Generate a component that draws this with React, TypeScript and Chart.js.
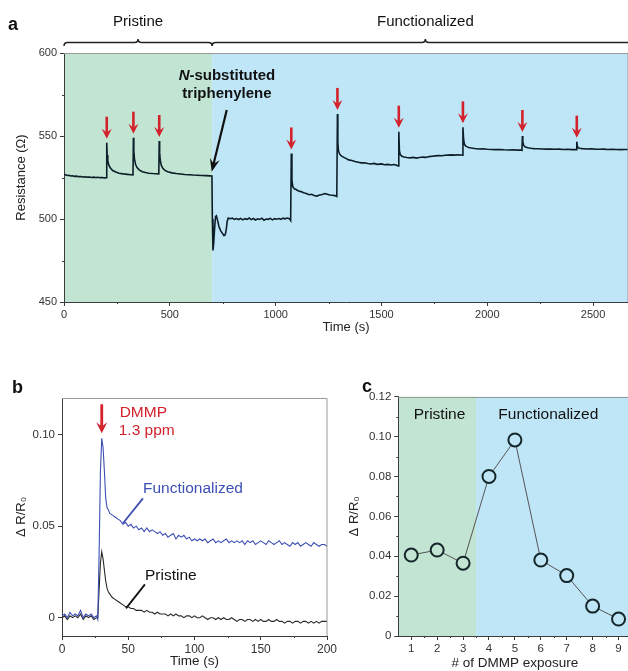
import React, { useEffect, useRef } from "react";
import { Chart, registerables } from "chart.js";

Chart.register(...registerables);

const FONT = "'Liberation Sans', Arial, Helvetica, sans-serif";
Chart.defaults.font.family = FONT;
Chart.defaults.color = "#333";

const GREEN = "#c2e4d3";
const BLUE = "#bfe6f7";
const RED = "#d3222c";
const AXIS = "#3c3c3c";
const FRAME = "#9a9a9a";
const TRACE = "#0c1e28";
const FUNC_BLUE = "#3e4fb4";

// ---------------- Panel a : resistance vs time ----------------
const aTime = [
  0, 8, 16, 24, 32, 40, 50, 60, 70, 80, 90, 100, 110, 120, 130, 140, 150, 160, 170, 180, 190, 200,
  202, 204, 207, 212, 220, 230, 245, 260, 280, 300, 315, 326,
  328, 330, 333, 338, 345, 355, 370, 385, 400, 420, 435, 448,
  450, 452, 455, 460, 467, 477, 490, 510, 530, 550, 570, 590, 610, 630, 650, 670, 690, 699,
  701, 704, 707, 712, 716, 720, 726, 732, 740, 748, 756, 762, 767, 771, 776, 785, 795, 805, 815, 825,
  835, 845, 855, 865, 875, 885, 895, 905, 915, 925, 935, 945, 955, 965, 975, 985, 995, 1005, 1015,
  1025, 1035, 1045, 1055, 1065, 1071,
  1074, 1077, 1081, 1088, 1097, 1108, 1120, 1132, 1145, 1158, 1170, 1182, 1195, 1208, 1220, 1232,
  1244, 1256, 1268, 1280, 1289,
  1292, 1294, 1297, 1302, 1310, 1320, 1332, 1345, 1360, 1375, 1390, 1405, 1420, 1435, 1450, 1465,
  1480, 1500, 1515, 1530, 1545, 1560, 1572, 1579,
  1582, 1585, 1589, 1595, 1605, 1620, 1635, 1650, 1665, 1680, 1695, 1710, 1725, 1740, 1755, 1770,
  1785, 1800, 1815, 1830, 1845, 1860, 1875, 1882,
  1885, 1888, 1891, 1896, 1903, 1912, 1925, 1940, 1960, 1980, 2000, 2020, 2040, 2060, 2080, 2100,
  2120, 2140, 2160, 2164,
  2166, 2168, 2172, 2180, 2192, 2205, 2220, 2240, 2260, 2280, 2300, 2320, 2340, 2360, 2380, 2400,
  2415, 2421,
  2423, 2425, 2429, 2436, 2450, 2470, 2490, 2510, 2530, 2550, 2570, 2590, 2610, 2630, 2650, 2670,
];
const aRes = [
  526.8, 526.6, 526.2, 526.3, 525.9, 526.0, 525.7, 525.8, 525.5, 525.6, 525.3, 525.4, 525.2, 525.3, 525.0, 525.2, 525.0, 525.1, 524.9, 525.0, 524.8, 524.9,
  546.0, 538.5, 535.0, 532.4, 530.6, 529.2, 528.3, 527.6, 527.2, 526.9, 526.7, 526.6,
  549.0, 541.0, 536.2, 533.0, 531.0, 529.6, 528.5, 528.0, 527.6, 527.4, 527.3, 527.2,
  547.0, 540.0, 535.2, 532.3, 530.5, 529.3, 528.5, 527.8, 527.4, 527.1, 526.8, 526.7, 526.5, 526.4, 526.2, 526.1, 526.0, 525.9,
  500.0, 481.0, 485.0, 495.0, 501.5, 502.0, 499.0, 495.5, 493.0, 491.5, 490.0, 490.5, 494.0, 498.5, 500.6, 500.2, 500.5, 499.8, 500.3, 499.7,
  500.4, 499.5, 500.2, 499.8, 500.6, 499.6, 500.3, 499.4, 500.1, 499.7, 500.5, 499.3, 500.0, 499.8, 500.4, 499.5, 500.2, 499.9, 500.3,
  499.8, 500.5, 500.1, 500.6, 500.2, 499.0,
  539.5, 523.5, 519.5, 518.2, 517.8, 516.9, 516.5, 515.8, 515.4, 514.6, 514.9, 514.2, 513.8, 514.4, 514.8, 515.3,
  514.9, 514.5, 514.3, 514.1, 513.6,
  563.3, 546.0, 541.0, 539.2, 538.0, 537.3, 536.5, 535.6, 535.2, 534.6, 534.2, 533.8, 533.9, 533.4, 533.1, 533.5,
  532.9, 533.2, 532.7, 532.9, 532.5, 532.8, 532.4, 532.0,
  552.6, 541.0, 538.8, 537.9, 537.4, 537.0, 536.8, 537.1, 536.7, 537.0, 537.3, 537.1, 537.6, 537.8, 538.0, 538.2,
  538.1, 538.4, 538.5, 538.6, 538.5, 538.7, 538.6, 538.4,
  555.2, 548.5, 545.5, 544.2, 543.6, 543.1, 542.8, 542.5, 542.2, 542.3, 542.0, 541.9, 541.8, 541.9, 541.7, 541.6,
  541.7, 541.5, 541.6, 541.4,
  550.0, 546.5, 544.3, 543.3, 542.9, 542.6, 542.4, 542.3, 542.2, 542.1, 542.2, 542.0, 542.1, 541.9, 542.0, 541.8,
  541.9, 541.8,
  546.6, 544.3, 543.0, 542.6, 542.4, 542.2, 542.3, 542.1, 542.0, 542.1, 541.9, 542.0, 541.9, 541.8, 541.9, 541.8,
];
const aSpikeTimes = [202, 328, 450, 1074, 1292, 1582, 1885, 2166, 2423];
const aPhaseLabels = ["Pristine", "Functionalized"];
const aPhaseEdges = [0, 700, 2715];
const aXTicks = [0, 500, 1000, 1500, 2000, 2500];
const aXTickLabels = ["0", "500", "1000", "1500", "2000", "2500"];
const aXMinor = [250, 750, 1250, 1750, 2250];
const aYTicks = [450, 500, 550, 600];
const aYTickLabels = ["450", "500", "550", "600"];
const aYMinor = [475, 525, 575];

// ---------------- Panel b : ΔR/R0 vs time ----------------
const bTime = [
  0, 2, 4, 6, 8, 10, 12, 14, 16, 18, 20, 22, 24, 26,
  27, 28, 29, 30, 31, 32, 33, 34, 35, 36,
  38, 40, 42, 44, 46, 48, 50, 52, 54, 56,
  58, 60, 62, 64, 66, 68, 70, 72, 74, 76,
  78, 80, 82, 84, 86, 88, 90, 92, 94, 96,
  98, 100, 102, 104, 106, 108, 110, 112, 114, 116,
  118, 120, 122, 124, 126, 128, 130, 132, 134, 136,
  138, 140, 142, 144, 146, 148, 150, 152, 154, 156,
  158, 160, 162, 164, 166, 168, 170, 172, 174, 176,
  178, 180, 182, 184, 186, 188, 190, 192, 194, 196,
  198, 200,
];
const bFunctionalized = [
  0.001, 0.002, 0.000, 0.003, 0.001, 0.002, 0.001, 0.004, 0.000, 0.002, 0.001, 0.002, 0.000, 0.001,
  -0.001, 0.035, 0.080, 0.098, 0.093, 0.080, 0.065, 0.060, 0.059, 0.057,
  0.056, 0.055, 0.054, 0.053, 0.051, 0.052, 0.050, 0.051, 0.049, 0.050,
  0.048, 0.049, 0.047, 0.049, 0.047, 0.048, 0.047, 0.046, 0.047, 0.045,
  0.046, 0.044, 0.045, 0.046, 0.043, 0.045, 0.044, 0.045, 0.043, 0.044,
  0.042, 0.043, 0.042, 0.043, 0.042, 0.043, 0.041, 0.042, 0.043, 0.041,
  0.042, 0.041, 0.042, 0.043, 0.041, 0.042, 0.041, 0.042, 0.041, 0.042,
  0.040, 0.042, 0.041, 0.042, 0.040, 0.041, 0.042, 0.041, 0.040, 0.042,
  0.041, 0.040, 0.041, 0.042, 0.040, 0.041, 0.040, 0.039, 0.041, 0.040,
  0.041, 0.039, 0.040, 0.041, 0.040, 0.039, 0.041, 0.040, 0.039, 0.040,
  0.040, 0.039,
];
const bPristine = [
  0.000, 0.001, -0.001, 0.001, 0.000, 0.001, 0.000, 0.002, -0.001, 0.001, 0.000, 0.001, -0.001, 0.000,
  0.000, 0.015, 0.030, 0.036, 0.032, 0.026, 0.020, 0.016, 0.014, 0.013,
  0.011, 0.010, 0.009, 0.008, 0.007, 0.006, 0.006, 0.005, 0.005, 0.004,
  0.004, 0.004, 0.003, 0.004, 0.003, 0.003, 0.002, 0.003, 0.002, 0.002,
  0.002, 0.001, 0.002, 0.001, 0.002, 0.001, 0.001, 0.000, 0.001, 0.001,
  0.000, 0.001, 0.000, 0.000, 0.001, 0.000, -0.001, 0.000, 0.000, -0.001,
  0.000, -0.001, 0.000, -0.001, -0.001, 0.000, -0.001, -0.002, -0.001, -0.001,
  -0.002, -0.001, -0.001, -0.002, -0.001, -0.002, -0.001, -0.002, -0.002, -0.001,
  -0.002, -0.002, -0.001, -0.002, -0.002, -0.003, -0.002, -0.002, -0.003, -0.002,
  -0.002, -0.003, -0.002, -0.002, -0.003, -0.002, -0.003, -0.002, -0.003, -0.002,
  -0.002, -0.002,
];
const bSeriesLabels = ["Functionalized", "Pristine"];
const bXTicks = [0, 50, 100, 150, 200];
const bXTickLabels = ["0", "50", "100", "150", "200"];
const bXMinor = [25, 75, 125, 175];
const bYTicks = [0, 0.05, 0.1];
const bYTickLabels = ["0", "0.05", "0.10"];
const bStimulus = ["DMMP", "1.3 ppm"];
const bStimulusTime = 30;

// ---------------- Panel c : response vs exposure number ----------------
const cExposure = [1, 2, 3, 4, 5, 6, 7, 8, 9];
const cResponse = [0.0406, 0.0431, 0.0365, 0.0800, 0.0983, 0.0381, 0.0303, 0.0150, 0.0085];
const cPhaseLabels = ["Pristine", "Functionalized"];
const cPhaseEdges = [0.5, 3.5, 9.5];
const cXTicks = [1, 2, 3, 4, 5, 6, 7, 8, 9];
const cXTickLabels = ["1", "2", "3", "4", "5", "6", "7", "8", "9"];
const cXMinor = [1.5, 2.5, 3.5, 4.5, 5.5, 6.5, 7.5, 8.5];
const cYTicks = [0, 0.02, 0.04, 0.06, 0.08, 0.1, 0.12];
const cYTickLabels = ["0", "0.02", "0.04", "0.06", "0.08", "0.10", "0.12"];
const cYMinor = [0.01, 0.03, 0.05, 0.07, 0.09, 0.11];

// ---------------- helpers ----------------
function minorX(ctx: CanvasRenderingContext2D, scale: any, vals: number[], len: number) {
  ctx.save();
  ctx.strokeStyle = AXIS;
  ctx.lineWidth = 1;
  ctx.beginPath();
  for (const v of vals) {
    const px = Math.round(scale.getPixelForValue(v)) + 0.5;
    ctx.moveTo(px, scale.top);
    ctx.lineTo(px, scale.top + len);
  }
  ctx.stroke();
  ctx.restore();
}
function minorY(ctx: CanvasRenderingContext2D, scale: any, vals: number[], len: number) {
  ctx.save();
  ctx.strokeStyle = AXIS;
  ctx.lineWidth = 1;
  ctx.beginPath();
  for (const v of vals) {
    const py = Math.round(scale.getPixelForValue(v)) + 0.5;
    ctx.moveTo(scale.right, py);
    ctx.lineTo(scale.right - len, py);
  }
  ctx.stroke();
  ctx.restore();
}
function frameTopRight(ctx: CanvasRenderingContext2D, ca: any) {
  ctx.save();
  ctx.strokeStyle = FRAME;
  ctx.lineWidth = 1;
  ctx.beginPath();
  ctx.moveTo(ca.left, Math.round(ca.top) + 0.5);
  ctx.lineTo(ca.right, Math.round(ca.top) + 0.5);
  ctx.lineTo(ca.right, ca.bottom);
  ctx.stroke();
  ctx.restore();
}
function arrow(
  ctx: CanvasRenderingContext2D,
  x1: number, y1: number, x2: number, y2: number,
  color: string, width: number, headLen: number, headW: number
) {
  const ang = Math.atan2(y2 - y1, x2 - x1);
  const ux = Math.cos(ang), uy = Math.sin(ang);
  const px = -uy, py = ux;
  ctx.save();
  ctx.strokeStyle = color;
  ctx.lineWidth = width;
  ctx.beginPath();
  ctx.moveTo(x1, y1);
  ctx.lineTo(x2 - ux * headLen * 0.6, y2 - uy * headLen * 0.6);
  ctx.stroke();
  ctx.fillStyle = color;
  ctx.beginPath();
  ctx.moveTo(x2, y2);
  ctx.lineTo(x2 - ux * headLen + (px * headW) / 2, y2 - uy * headLen + (py * headW) / 2);
  ctx.lineTo(x2 - ux * headLen * 0.62, y2 - uy * headLen * 0.62);
  ctx.lineTo(x2 - ux * headLen - (px * headW) / 2, y2 - uy * headLen - (py * headW) / 2);
  ctx.closePath();
  ctx.fill();
  ctx.restore();
}
function brace(ctx: CanvasRenderingContext2D, x1: number, x2: number, y: number, h: number) {
  const xm = (x1 + x2) / 2;
  ctx.beginPath();
  ctx.moveTo(x1, y + h);
  ctx.quadraticCurveTo(x1, y, x1 + h, y);
  ctx.lineTo(xm - h, y);
  ctx.quadraticCurveTo(xm, y, xm, y - h);
  ctx.quadraticCurveTo(xm, y, xm + h, y);
  ctx.lineTo(x2 - h, y);
  ctx.quadraticCurveTo(x2, y, x2, y + h);
  ctx.stroke();
}
function peakNear(times: number[], vals: number[], t: number) {
  let best = -Infinity;
  times.forEach((tt, i) => {
    if (Math.abs(tt - t) <= 2 && vals[i] > best) best = vals[i];
  });
  return best;
}
function fixedTicks(values: number[]) {
  return (s: any) => {
    s.ticks = values.map((v) => ({ value: v }));
  };
}
function labelFor(values: number[], labels: string[]) {
  return (v: any) => {
    const i = values.findIndex((x) => Math.abs(x - Number(v)) < 1e-9);
    return i >= 0 ? labels[i] : "";
  };
}
const gridOpts = { drawOnChartArea: false, tickLength: 4, color: AXIS, tickColor: AXIS };
const borderOpts = { color: AXIS, width: 1 };

// ---------------- panel plugins ----------------
const panelAPlugin = {
  id: "panelA",
  beforeDraw(chart: any) {
    const { ctx, chartArea: ca, scales } = chart;
    const x = scales.x;
    const xb = x.getPixelForValue(aPhaseEdges[1]);
    ctx.save();
    ctx.fillStyle = GREEN;
    ctx.fillRect(ca.left, ca.top, xb - ca.left, ca.bottom - ca.top);
    ctx.fillStyle = BLUE;
    ctx.fillRect(xb, ca.top, ca.right - xb, ca.bottom - ca.top);
    ctx.restore();
  },
  afterDraw(chart: any) {
    const { ctx, chartArea: ca, scales } = chart;
    const x = scales.x, y = scales.y;
    frameTopRight(ctx, ca);
    minorX(ctx, x, aXMinor, 2);
    minorY(ctx, y, aYMinor, 2);

    // braces + phase headers
    ctx.save();
    ctx.strokeStyle = "#222";
    ctx.lineWidth = 1.5;
    const e0 = x.getPixelForValue(aPhaseEdges[0]);
    const e1 = x.getPixelForValue(aPhaseEdges[1]);
    const e2 = x.getPixelForValue(aPhaseEdges[2]);
    brace(ctx, e0, e1, 42.5, 3.5);
    brace(ctx, e1, e2, 42.5, 3.5);
    ctx.fillStyle = "#111";
    ctx.font = `15px ${FONT}`;
    ctx.textAlign = "center";
    ctx.textBaseline = "middle";
    ctx.fillText(aPhaseLabels[0], (e0 + e1) / 2, 22);
    ctx.fillText(aPhaseLabels[1], (e1 + e2) / 2, 22);
    // panel letter
    ctx.font = `bold 18px ${FONT}`;
    ctx.textAlign = "left";
    ctx.textBaseline = "alphabetic";
    ctx.fillText("a", 8, 30);
    ctx.restore();

    // red arrows above each exposure spike
    for (const t of aSpikeTimes) {
      const px = x.getPixelForValue(t);
      const tip = y.getPixelForValue(peakNear(aTime, aRes, t)) - 4;
      arrow(ctx, px, tip - 22, px, tip, RED, 2.6, 10, 10);
    }

    // N-substituted triphenylene label and arrow
    ctx.save();
    ctx.fillStyle = "#111";
    ctx.textBaseline = "middle";
    const cx = x.getPixelForValue(770);
    ctx.font = `italic bold 15px ${FONT}`;
    const wN = ctx.measureText("N").width;
    ctx.font = `bold 15px ${FONT}`;
    const wRest = ctx.measureText("-substituted").width;
    const sx = cx - (wN + wRest) / 2;
    const l1 = y.getPixelForValue(586.5);
    ctx.textAlign = "left";
    ctx.font = `italic bold 15px ${FONT}`;
    ctx.fillText("N", sx, l1);
    ctx.font = `bold 15px ${FONT}`;
    ctx.fillText("-substituted", sx + wN, l1);
    ctx.textAlign = "center";
    ctx.fillText("triphenylene", cx, y.getPixelForValue(575.5));
    ctx.restore();
    arrow(
      ctx,
      x.getPixelForValue(769), y.getPixelForValue(565.7),
      x.getPixelForValue(698), y.getPixelForValue(528.5),
      "#111", 2.2, 13, 10
    );
  },
};

const panelBPlugin = {
  id: "panelB",
  afterDraw(chart: any) {
    const { ctx, chartArea: ca, scales } = chart;
    const x = scales.x, y = scales.y;
    frameTopRight(ctx, ca);
    minorX(ctx, x, bXMinor, 2);

    ctx.save();
    ctx.fillStyle = "#111";
    ctx.font = `bold 18px ${FONT}`;
    ctx.textBaseline = "alphabetic";
    ctx.textAlign = "left";
    ctx.fillText("b", 12, 48);
    ctx.restore();

    // stimulus arrow
    const ax = x.getPixelForValue(bStimulusTime);
    const tip = y.getPixelForValue(peakNear(bTime, bFunctionalized, bStimulusTime)) - 5;
    arrow(ctx, ax, tip - 29, ax, tip, RED, 2.8, 11, 11);

    ctx.save();
    ctx.font = `15.5px ${FONT}`;
    ctx.textAlign = "left";
    ctx.textBaseline = "middle";
    ctx.fillStyle = RED;
    ctx.fillText(bStimulus[0], x.getPixelForValue(43.5), y.getPixelForValue(0.1122));
    ctx.fillText(bStimulus[1], x.getPixelForValue(42.8), y.getPixelForValue(0.1023));
    ctx.fillStyle = FUNC_BLUE;
    ctx.fillText(bSeriesLabels[0], x.getPixelForValue(61.1), y.getPixelForValue(0.0707));
    ctx.fillStyle = "#111";
    ctx.fillText(bSeriesLabels[1], x.getPixelForValue(62.6), y.getPixelForValue(0.0231));
    ctx.lineWidth = 1.8;
    ctx.strokeStyle = FUNC_BLUE;
    ctx.beginPath();
    ctx.moveTo(x.getPixelForValue(61.1), y.getPixelForValue(0.0652));
    ctx.lineTo(x.getPixelForValue(46), y.getPixelForValue(0.0516));
    ctx.stroke();
    ctx.strokeStyle = "#111";
    ctx.beginPath();
    ctx.moveTo(x.getPixelForValue(62.6), y.getPixelForValue(0.0182));
    ctx.lineTo(x.getPixelForValue(48.3), y.getPixelForValue(0.0051));
    ctx.stroke();
    ctx.restore();
  },
};

const panelCPlugin = {
  id: "panelC",
  beforeDraw(chart: any) {
    const { ctx, chartArea: ca, scales } = chart;
    const x = scales.x;
    const xb = x.getPixelForValue(cPhaseEdges[1]);
    ctx.save();
    ctx.fillStyle = GREEN;
    ctx.fillRect(ca.left, ca.top, xb - ca.left, ca.bottom - ca.top);
    ctx.fillStyle = BLUE;
    ctx.fillRect(xb, ca.top, ca.right - xb, ca.bottom - ca.top);
    ctx.restore();
  },
  afterDraw(chart: any) {
    const { ctx, chartArea: ca, scales } = chart;
    const x = scales.x, y = scales.y;
    frameTopRight(ctx, ca);
    minorX(ctx, x, cXMinor, 2);
    minorY(ctx, y, cYMinor, 2);
    ctx.save();
    ctx.fillStyle = "#111";
    ctx.font = `15.5px ${FONT}`;
    ctx.textAlign = "center";
    ctx.textBaseline = "middle";
    ctx.fillText(cPhaseLabels[0], x.getPixelForValue(2.09), y.getPixelForValue(0.1108));
    ctx.fillText(cPhaseLabels[1], x.getPixelForValue(6.29), y.getPixelForValue(0.1108));
    ctx.font = `bold 18px ${FONT}`;
    ctx.textAlign = "left";
    ctx.textBaseline = "alphabetic";
    ctx.fillText("c", 32, 47);
    ctx.restore();
  },
};

// ---------------- configs ----------------
function configA(): any {
  return {
    type: "line",
    data: {
      datasets: [
        {
          label: "Resistance",
          data: aTime.map((t, i) => ({ x: t, y: aRes[i] })),
          borderColor: TRACE,
          borderWidth: 1.6,
          pointRadius: 0,
          tension: 0,
        },
      ],
    },
    options: {
      responsive: false,
      animation: false,
      events: [],
      layout: { padding: { top: 53, left: 0, right: 0, bottom: 0 } },
      plugins: { legend: { display: false }, tooltip: { enabled: false } },
      scales: {
        x: {
          type: "linear",
          min: 0,
          max: 2665,
          afterBuildTicks: fixedTicks(aXTicks),
          afterFit: (s: any) => { s.height = 38; },
          ticks: { font: { size: 11 }, color: "#333", padding: 2, maxRotation: 0, autoSkip: false, callback: labelFor(aXTicks, aXTickLabels) },
          grid: gridOpts,
          border: borderOpts,
          title: { display: true, text: "Time (s)", font: { size: 13 }, color: "#222", padding: { top: 0, bottom: 5 } },
        },
        y: {
          type: "linear",
          min: 450,
          max: 600,
          afterBuildTicks: fixedTicks(aYTicks),
          afterFit: (s: any) => { s.width = 64; },
          ticks: { font: { size: 11 }, color: "#333", padding: 3, autoSkip: false, callback: labelFor(aYTicks, aYTickLabels) },
          grid: gridOpts,
          border: borderOpts,
          title: { display: true, text: "Resistance (Ω)", font: { size: 13 }, color: "#222", padding: { top: 14, bottom: 0 } },
        },
      },
    },
    plugins: [panelAPlugin],
  };
}

function configB(): any {
  return {
    type: "line",
    data: {
      datasets: [
        {
          label: bSeriesLabels[0],
          data: bTime.map((t, i) => ({ x: t, y: bFunctionalized[i] })),
          borderColor: FUNC_BLUE,
          borderWidth: 1.1,
          pointRadius: 0,
          tension: 0,
        },
        {
          label: bSeriesLabels[1],
          data: bTime.map((t, i) => ({ x: t, y: bPristine[i] })),
          borderColor: "#2a2a2a",
          borderWidth: 1.1,
          pointRadius: 0,
          tension: 0,
        },
      ],
    },
    options: {
      responsive: false,
      animation: false,
      events: [],
      layout: { padding: { top: 53, left: 0, right: 14, bottom: 0 } },
      plugins: { legend: { display: false }, tooltip: { enabled: false } },
      scales: {
        x: {
          type: "linear",
          min: 0,
          max: 200,
          afterBuildTicks: fixedTicks(bXTicks),
          afterFit: (s: any) => { s.height = 35; },
          ticks: { font: { size: 12 }, color: "#333", padding: 2, maxRotation: 0, autoSkip: false, callback: labelFor(bXTicks, bXTickLabels) },
          grid: gridOpts,
          border: borderOpts,
          title: { display: true, text: "Time (s)", font: { size: 13.5 }, color: "#222", padding: { top: 0, bottom: 2 } },
        },
        y: {
          type: "linear",
          min: -0.01,
          max: 0.12,
          afterBuildTicks: fixedTicks(bYTicks),
          afterFit: (s: any) => { s.width = 62; },
          ticks: { font: { size: 11.5 }, color: "#333", padding: 3, autoSkip: false, callback: labelFor(bYTicks, bYTickLabels) },
          grid: gridOpts,
          border: borderOpts,
          title: { display: true, text: "Δ R/R₀", font: { size: 13 }, color: "#222", padding: { top: 14, bottom: 0 } },
        },
      },
    },
    plugins: [panelBPlugin],
  };
}

function configC(): any {
  return {
    type: "line",
    data: {
      datasets: [
        {
          label: "ΔR/R0",
          data: cExposure.map((n, i) => ({ x: n, y: cResponse[i] })),
          borderColor: "#555",
          borderWidth: 1,
          pointRadius: 6.5,
          pointBorderWidth: 2,
          pointBorderColor: "#15262a",
          pointBackgroundColor: (c: any) => (c.raw && c.raw.x < cPhaseEdges[1] ? GREEN : BLUE),
          tension: 0,
          clip: false,
        },
      ],
    },
    options: {
      responsive: false,
      animation: false,
      events: [],
      layout: { padding: { top: 51.7, left: 0, right: 5.9, bottom: 0 } },
      plugins: { legend: { display: false }, tooltip: { enabled: false } },
      scales: {
        x: {
          type: "linear",
          min: cPhaseEdges[0],
          max: cPhaseEdges[2],
          afterBuildTicks: fixedTicks(cXTicks),
          afterFit: (s: any) => { s.height = 35; },
          ticks: { font: { size: 11.5 }, color: "#333", padding: 2, maxRotation: 0, autoSkip: false, callback: labelFor(cXTicks, cXTickLabels) },
          grid: gridOpts,
          border: borderOpts,
          title: { display: true, text: "# of DMMP exposure", font: { size: 13.5 }, color: "#222", padding: { top: 0, bottom: 0 } },
        },
        y: {
          type: "linear",
          min: 0,
          max: 0.12,
          afterBuildTicks: fixedTicks(cYTicks),
          afterFit: (s: any) => { s.width = 68.3; },
          ticks: { font: { size: 11.5 }, color: "#333", padding: 3, autoSkip: false, callback: labelFor(cYTicks, cYTickLabels) },
          grid: gridOpts,
          border: borderOpts,
          title: { display: true, text: "Δ R/R₀", font: { size: 13 }, color: "#222", padding: { top: 17, bottom: 0 } },
        },
      },
    },
    plugins: [panelCPlugin],
  };
}

function ChartCanvas(props: { left: number; top: number; width: number; height: number; make: () => any }) {
  const ref = useRef<HTMLCanvasElement>(null);
  useEffect(() => {
    const chart = new Chart(ref.current as HTMLCanvasElement, props.make());
    return () => chart.destroy();
  }, []);
  return (
    <canvas
      ref={ref}
      width={props.width}
      height={props.height}
      style={{ position: "absolute", left: props.left, top: props.top, width: props.width, height: props.height }}
    />
  );
}

export default function App() {
  return (
    <div
      style={{
        position: "fixed",
        left: 0,
        top: 0,
        width: 628,
        height: 671,
        overflow: "hidden",
        background: "#fff",
      }}
    >
      <ChartCanvas left={0} top={0} width={628} height={340} make={configA} />
      <ChartCanvas left={0} top={345} width={341} height={326} make={configB} />
      <ChartCanvas left={330} top={345} width={310} height={326} make={configC} />
    </div>
  );
}
